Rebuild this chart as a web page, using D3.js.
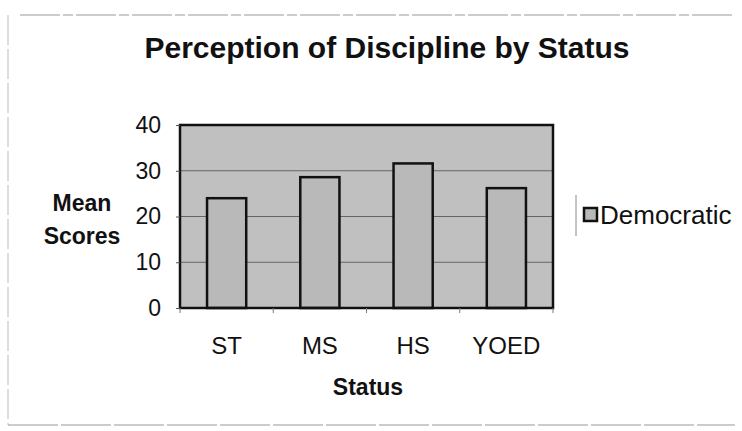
<!DOCTYPE html>
<html>
<head>
<meta charset="utf-8">
<script src="https://cdn.jsdelivr.net/npm/d3@7"></script>
<style>
  body { margin: 0; background: #fff; }
  svg text { font-family: "Liberation Sans", Arial, sans-serif; fill: #111; }
</style>
</head>
<body>
<svg class="chart" width="742" height="431"></svg>
<script>
// data
var categories = ["ST", "MS", "HS", "YOED"]
var democratic = [24, 28.6, 31.6, 26.2]
var yTicks = [0, 10, 20, 30, 40]
var seriesName = "Democratic"

const svg = d3.select('.chart')

// frame of the scanned chart
svg.append('line')
  .attr('x1', 20).attr('x2', 735).attr('y1', 15).attr('y2', 15)
  .attr('stroke', '#999').attr('stroke-width', 1)
  .attr('stroke-dasharray', '40 3 10 3')
svg.append('line')
  .attr('x1', 8).attr('x2', 8).attr('y1', 15).attr('y2', 425)
  .attr('stroke', '#bbb').attr('stroke-width', 1)
  .attr('stroke-dasharray', '30 4')
svg.append('line')
  .attr('x1', 8).attr('x2', 735).attr('y1', 425).attr('y2', 425)
  .attr('stroke', '#999').attr('stroke-width', 1)
  .attr('stroke-dasharray', '50 3')

const x = d3.scaleBand()
  .domain(categories)
  .range([180, 553])
  .paddingInner(0.58)
  .paddingOuter(0.29)

const y = d3.scaleLinear()
  .domain([0, 40])
  .range([308, 125])

// plot area
svg.append('rect')
  .attr('x', 180).attr('y', y(40))
  .attr('width', 373).attr('height', y(0) - y(40))
  .attr('fill', '#c0c0c0')

// gridlines
svg.append('g')
  .selectAll('line')
  .data(yTicks.filter((d) => d > 0 && d < 40))
  .enter()
  .append('line')
  .attr('x1', 180).attr('x2', 553)
  .attr('y1', (d) => y(d)).attr('y2', (d) => y(d))
  .attr('stroke', '#666').attr('stroke-width', 1)

// bars
svg.append('g')
  .selectAll('rect')
  .data(categories)
  .enter()
  .append('rect')
  .attr('x', (d) => x(d))
  .attr('width', x.bandwidth())
  .attr('y', (d, i) => y(democratic[i]))
  .attr('height', (d, i) => y(0) - y(democratic[i]))
  .attr('fill', '#b9b9b9')
  .attr('stroke', '#111')
  .attr('stroke-width', 2.5)

// plot border
svg.append('rect')
  .attr('x', 180).attr('y', y(40))
  .attr('width', 373).attr('height', y(0) - y(40))
  .attr('fill', 'none')
  .attr('stroke', '#111').attr('stroke-width', 2.5)

// y axis
const yAxis = svg.append('g')
  .attr('transform', 'translate(180,0)')
  .call(d3.axisLeft(y).tickValues(yTicks).tickSize(4).tickPadding(15))
yAxis.select('.domain').remove()
yAxis.selectAll('line').attr('stroke', '#555')
yAxis.selectAll('text')
  .style('font-size', '23px')
  .attr('fill', '#111')

// x axis ticks at band boundaries
svg.append('g')
  .selectAll('line')
  .data(d3.range(categories.length + 1))
  .enter()
  .append('line')
  .attr('x1', (d) => 180 + d * 373 / categories.length)
  .attr('x2', (d) => 180 + d * 373 / categories.length)
  .attr('y1', 308).attr('y2', 313)
  .attr('stroke', '#777')

svg.append('g')
  .selectAll('text')
  .data(categories)
  .enter()
  .append('text')
  .attr('x', (d) => x(d) + x.bandwidth() / 2)
  .attr('y', 354)
  .attr('text-anchor', 'middle')
  .style('font-size', '24px')
  .text((d) => d)

// titles
svg.append('text')
  .attr('x', 387).attr('y', 58)
  .attr('text-anchor', 'middle')
  .style('font-size', '30px').style('font-weight', 'bold')
  .text('Perception of Discipline by Status')

svg.append('text')
  .attr('x', 368).attr('y', 395)
  .attr('text-anchor', 'middle')
  .style('font-size', '23px').style('font-weight', 'bold')
  .text('Status')

const yTitle = svg.append('text')
  .attr('text-anchor', 'middle')
  .style('font-size', '23px').style('font-weight', 'bold')
yTitle.append('tspan').attr('x', 82).attr('y', 211).text('Mean')
yTitle.append('tspan').attr('x', 82).attr('y', 244).text('Scores')

// legend
svg.append('line')
  .attr('x1', 576).attr('x2', 576).attr('y1', 195).attr('y2', 236)
  .attr('stroke', '#888')
svg.append('rect')
  .attr('x', 584).attr('y', 208).attr('width', 13).attr('height', 13)
  .attr('fill', '#b9b9b9').attr('stroke', '#111').attr('stroke-width', 2.5)
svg.append('text')
  .attr('x', 600).attr('y', 224)
  .style('font-size', '26px')
  .text(seriesName)
</script>
</body>
</html>
